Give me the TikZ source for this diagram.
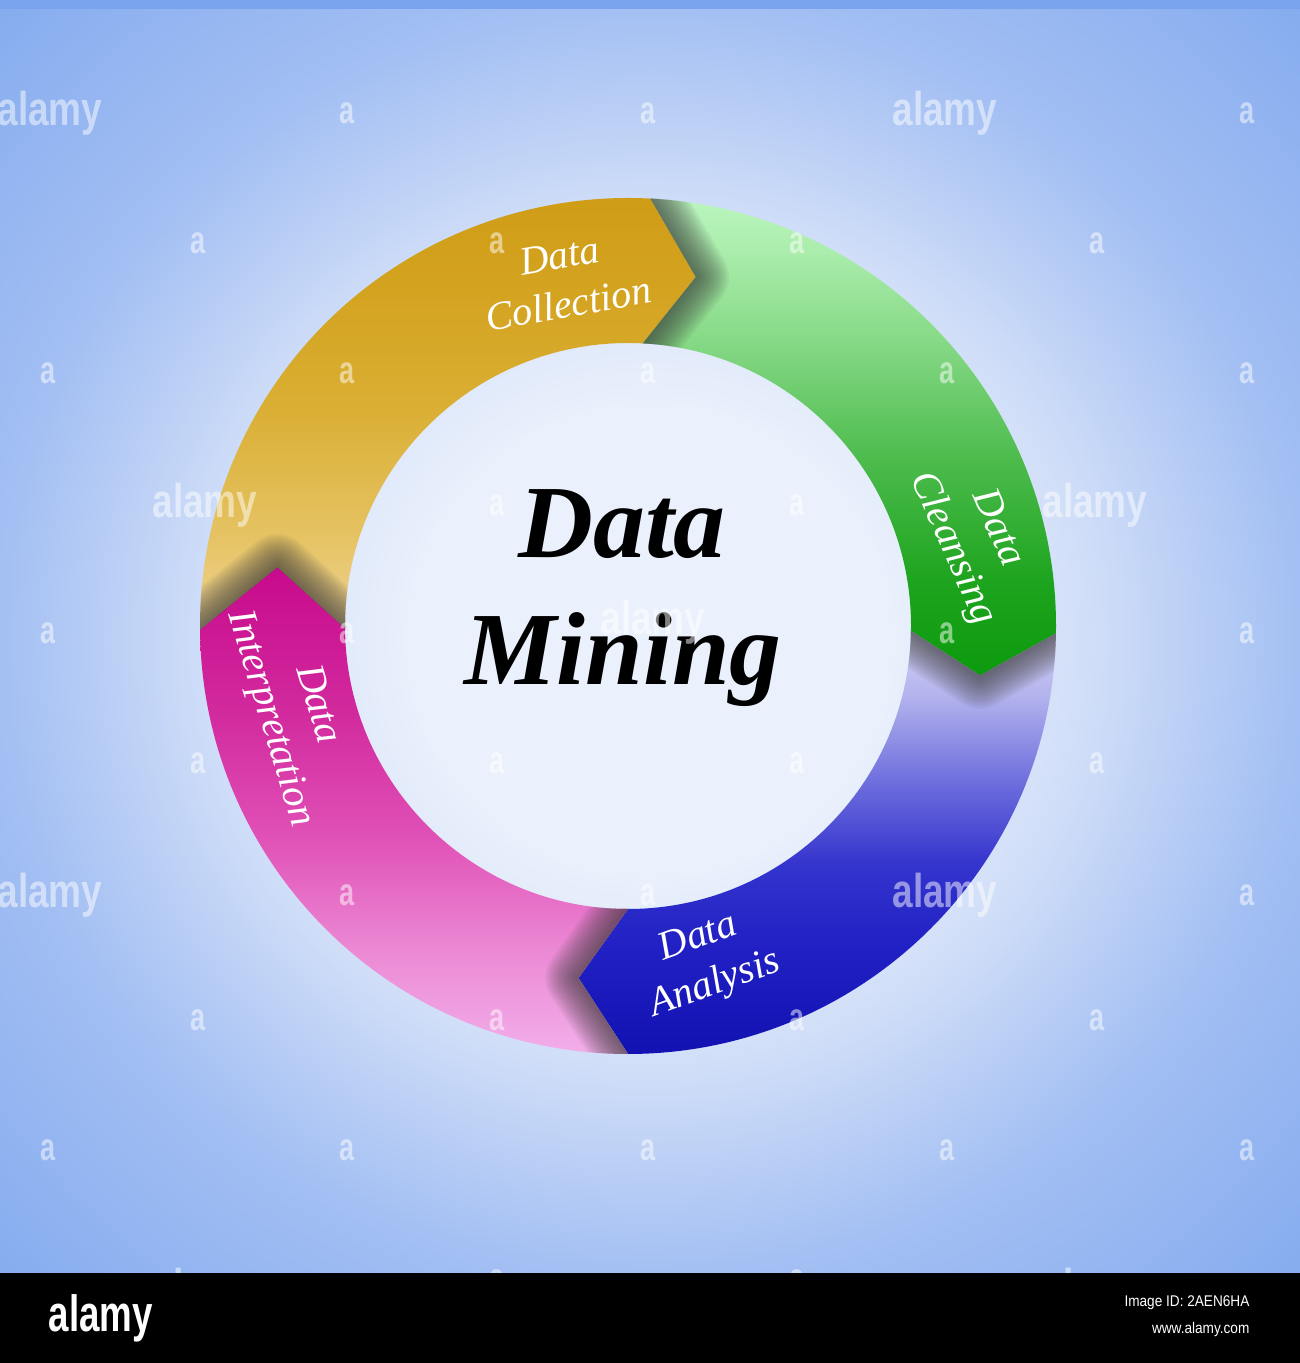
\documentclass[tikz,border=0pt]{standalone}
\usepackage{fontspec}
\setmainfont{Liberation Serif}
\newfontfamily\wmfont{Liberation Sans}
\definecolor{bgA}{HTML}{EBF1FC}
\definecolor{bgB}{HTML}{D0DEF8}
\definecolor{bgC}{HTML}{A3BFF3}
\definecolor{bgD}{HTML}{86ACEF}
\definecolor{topstrip}{HTML}{7AA3EE}
\definecolor{goA}{HTML}{EED396}
\definecolor{goB}{HTML}{E6C466}
\definecolor{goC}{HTML}{DAAF34}
\definecolor{goD}{HTML}{D3A21E}
\definecolor{goE}{HTML}{CF9C16}
\definecolor{grA}{HTML}{0C9A0E}
\definecolor{grB}{HTML}{1EA41E}
\definecolor{grC}{HTML}{4CBB4C}
\definecolor{grD}{HTML}{86D986}
\definecolor{grE}{HTML}{ACEEAE}
\definecolor{grF}{HTML}{BAF5BE}
\definecolor{blA}{HTML}{1212B2}
\definecolor{blB}{HTML}{2020C4}
\definecolor{blC}{HTML}{3434CE}
\definecolor{blD}{HTML}{7070DE}
\definecolor{blE}{HTML}{B4B4EE}
\definecolor{blF}{HTML}{D6D4F6}
\definecolor{piA}{HTML}{F2AEEA}
\definecolor{piB}{HTML}{EC8CD6}
\definecolor{piC}{HTML}{E050B6}
\definecolor{piD}{HTML}{D22A9E}
\definecolor{piE}{HTML}{C80A8C}
\definecolor{shadowgray}{HTML}{3A3A3A}
% TikZ maps the central 25bp..75bp part of a shading onto the path's bounding box
\pgfdeclareradialshading{bgshade}{\pgfpoint{0bp}{0bp}}{color(0bp)=(bgA); color(9bp)=(bgA); color(17bp)=(bgB); color(25bp)=(bgC); color(35.4bp)=(bgD); color(50bp)=(bgD)}
\pgfdeclareverticalshading{goldshade}{100bp}{color(0bp)=(goA); color(25bp)=(goA); color(35bp)=(goB); color(50bp)=(goC); color(65bp)=(goD); color(75bp)=(goE); color(100bp)=(goE)}
\pgfdeclareverticalshading{greenshade}{100bp}{color(0bp)=(grA); color(25bp)=(grA); color(35bp)=(grB); color(47.5bp)=(grC); color(60bp)=(grD); color(70bp)=(grE); color(75bp)=(grF); color(100bp)=(grF)}
\pgfdeclareverticalshading{blueshade}{100bp}{color(0bp)=(blA); color(25bp)=(blA); color(37.5bp)=(blB); color(47.5bp)=(blC); color(57.5bp)=(blD); color(67.5bp)=(blE); color(75bp)=(blF); color(100bp)=(blF)}
\pgfdeclareverticalshading{pinkshade}{100bp}{color(0bp)=(piA); color(25bp)=(piA); color(35bp)=(piB); color(47.5bp)=(piC); color(60bp)=(piD); color(75bp)=(piE); color(100bp)=(piE)}
\def\ringRo{428}
\def\ringRi{283}
\def\ringRm{355.5}
% segment: start base angle, end base angle, notch depth, tip depth (degrees)
\newcommand\ringseg[4]{({#1}:\ringRo) -- ({#1-#3}:\ringRm) -- ({#1}:\ringRi) arc[start angle={#1}, end angle={#2}, radius=\ringRi] -- ({#2-#4}:\ringRm) -- ({#2}:\ringRo) arc[start angle={#2}, end angle={#1}, radius=\ringRo] -- cycle}
\newcommand\tipshadow[2]{%
  \foreach \k in {1,...,18}
    \draw[shadowgray, line width=\k*1.05pt, draw opacity=0.055, line join=round, line cap=round] ({#1}:\ringRo) -- ({#1-#2}:\ringRm) -- ({#1}:\ringRi);}
\begin{document}
\begin{tikzpicture}[x=0.01cm, y=0.01cm,
  seglabel/.style={text=white, font=\itshape\fontsize{11.4}{14}\selectfont, align=center, inner sep=0pt},
  bigtitle/.style={text=black, font=\bfseries\itshape\fontsize{29.5}{36}\selectfont, inner sep=0pt, anchor=base},
  wmword/.style={text=white, text opacity=0.5, font=\wmfont\bfseries\fontsize{13.5}{13.5}\selectfont, xscale=0.78, inner sep=0pt},
  wmletter/.style={text=white, text opacity=0.5, font=\wmfont\bfseries\fontsize{11}{11}\selectfont, xscale=0.7, inner sep=0pt},
  barlogo/.style={text=white, font=\wmfont\bfseries\fontsize{14.5}{14.5}\selectfont, xscale=0.72, inner sep=0pt},
  barinfo/.style={text=white, font=\wmfont\fontsize{4.4}{5}\selectfont, xscale=0.88, inner sep=0pt, anchor=east}]
\useasboundingbox (0,0) rectangle (1300,1363);
% background
\shade[shading=bgshade] (0,90) rectangle (1300,1356);
\fill[topstrip] (0,1354) rectangle (1300,1363);
% ring segments
\begin{scope}[shift={(628,737)}]
  \shade[shading=goldshade]  \ringseg{180.5}{87}{10}{8};
  \shade[shading=greenshade] \ringseg{87}{-1}{8}{7};
  \shade[shading=blueshade]  \ringseg{-1}{-90}{7}{8};
  \shade[shading=pinkshade]  \ringseg{-90}{-179.5}{8}{10};
  % shadows cast by each arrow tip on the following segment
  \begin{scope}
    \clip \ringseg{87}{-1}{8}{7};
    \tipshadow{87}{8}
  \end{scope}
  \begin{scope}
    \clip \ringseg{-1}{-90}{7}{8};
    \tipshadow{-1}{7}
  \end{scope}
  \begin{scope}
    \clip \ringseg{-90}{-179.5}{8}{10};
    \tipshadow{-90}{8}
  \end{scope}
  \begin{scope}
    \clip \ringseg{180.5}{87}{10}{8};
    \tipshadow{180.5}{10}
  \end{scope}
\end{scope}
% segment labels
\node[seglabel, rotate=10]  (lcollect) at (564,1083) {Data\\Collection};
\node[seglabel, rotate=-66] (lcleanse) at (974,824)  {Data\\Cleansing};
\node[seglabel, rotate=20]  (lanalyse) at (707,401)  {Data\\Analysis};
\node[seglabel, rotate=-73] (linterp)  at (293,651)  {Data\\Interpretation};
% central title
\node[bigtitle] (title1) at (622,805) {Data};
\node[bigtitle] (title2) at (623,678) {Mining};
% watermarks
\foreach \px/\py [count=\i] in {50/1250, 945/1250, 205/858, 1095/858, 50/468, 945/468, 205/73, 1095/73, 653/741}
  \node[wmword] (wmw\i) at (\px,\py) {alamy};
\foreach \px/\py [count=\i] in {347/1250, 648/1250, 1247/1250,
  198/1120, 497/1120, 797/1120, 1097/1120,
  48/990, 347/990, 648/990, 947/990, 1247/990,
  497/858, 797/858,
  48/730, 347/730, 947/730, 1247/730,
  198/600, 497/600, 797/600, 1097/600,
  347/468, 648/468, 1247/468,
  198/343, 497/343, 797/343, 1097/343,
  48/213, 347/213, 648/213, 947/213, 1247/213,
  497/83, 797/83}
  \node[wmletter] (wml\i) at (\px,\py) {a};
% bottom bar
\fill[black] (0,0) rectangle (1300,90);
\node[barlogo] (barlogo) at (101,45) {alamy};
\node[barinfo] (barid) at (1250,60) {Image ID: 2AEN6HA};
\node[barinfo] (barurl) at (1250,33) {www.alamy.com};
\end{tikzpicture}
\end{document}
